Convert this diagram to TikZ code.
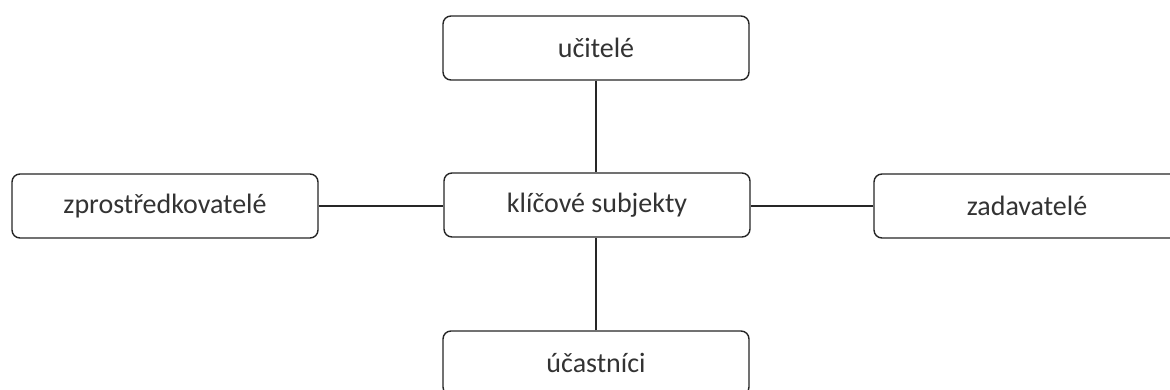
\documentclass[tikz,border=0pt]{standalone}
\usepackage{fontspec}
\setmainfont{Carlito}
\begin{document}
\begin{tikzpicture}[x=1pt,y=-1pt,
  box/.style={draw=black!85, line width=1.4pt, rounded corners=8pt, fill=white,
    minimum width=306pt, minimum height=64pt, inner sep=0pt,
    font=\fontsize{28}{33}\selectfont, text=black!80},
  link/.style={draw=black!85, line width=1.4pt}]
\useasboundingbox (0,0) rectangle (1170,390);
\clip (0,0) rectangle (1170,390);
\node[box] (c) at (597,205) {klíčové subjekty};
\node[box] (t) at (596,48) {učitelé};
\node[box] (l) at (165,206) {zprostředkovatelé};
\node[box] (r) at (1027,206) {zadavatelé};
\node[box] (b) at (596,363) {účastníci};
\draw[link] (t.south) -- (t.south |- c.north);
\draw[link] (b.north) -- (b.north |- c.south);
\draw[link] (l.east) -- (l.east -| c.west);
\draw[link] (r.west) -- (r.west -| c.east);
\end{tikzpicture}
\end{document}
